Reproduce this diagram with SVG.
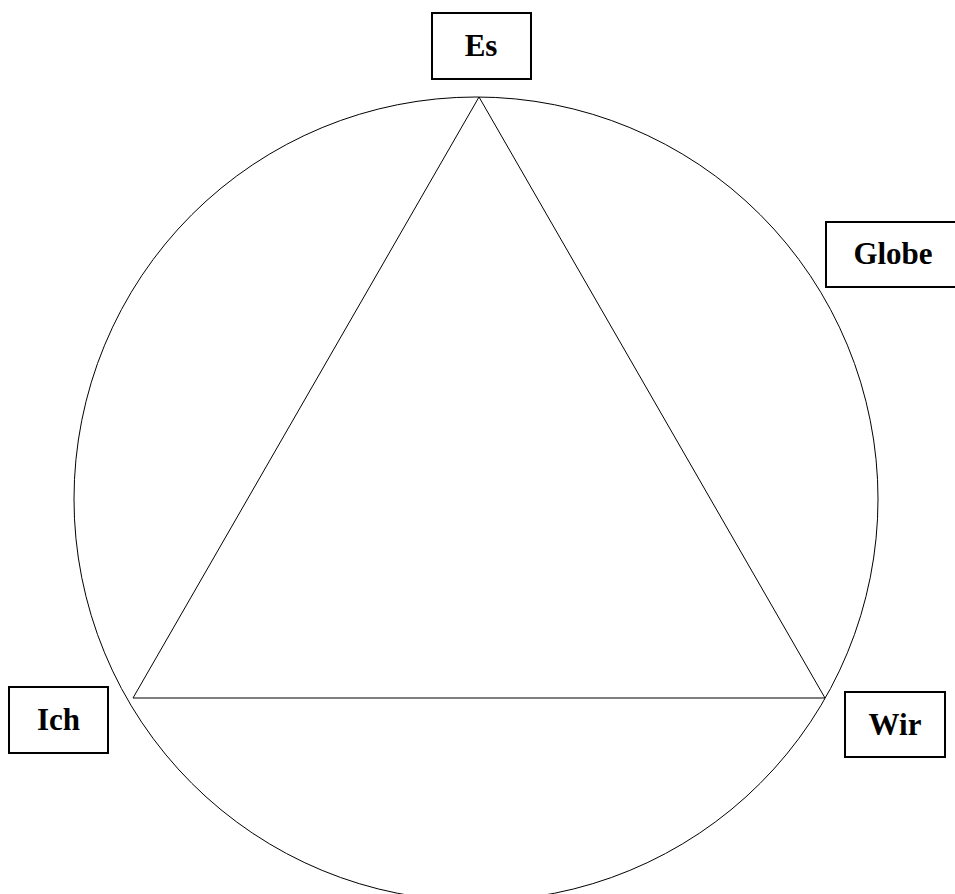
<svg xmlns="http://www.w3.org/2000/svg" width="955" height="894" viewBox="0 0 955 894">
<style>
.box{fill:#fff;stroke:#000;stroke-width:2}
.lbl{font-family:"Liberation Serif","Times New Roman",serif;font-weight:bold;font-size:31px;fill:#000;text-anchor:middle}
.ln{fill:none;stroke:#000;stroke-width:1}
</style>
<rect width="955" height="894" fill="#fff"/>
<g id="globe-circle">
<circle class="ln" cx="476" cy="499" r="402"/>
</g>
<g id="connectors">
<line class="ln" x1="479" y1="97" x2="133" y2="698"/>
<line class="ln" x1="479" y1="97" x2="825" y2="698"/>
<line class="ln" x1="133" y1="698" x2="825" y2="698"/>
</g>
<g id="node-es">
<rect class="box" x="432" y="13" width="99" height="66"/>
<text class="lbl" x="481" y="56">Es</text>
</g>
<g id="node-globe">
<rect class="box" x="826" y="222" width="134" height="65"/>
<text class="lbl" x="893" y="264">Globe</text>
</g>
<g id="node-ich">
<rect class="box" x="9" y="687" width="99" height="66"/>
<text class="lbl" x="58.5" y="730">Ich</text>
</g>
<g id="node-wir">
<rect class="box" x="845" y="692" width="100" height="65"/>
<text class="lbl" x="895" y="735">Wir</text>
</g>
</svg>
